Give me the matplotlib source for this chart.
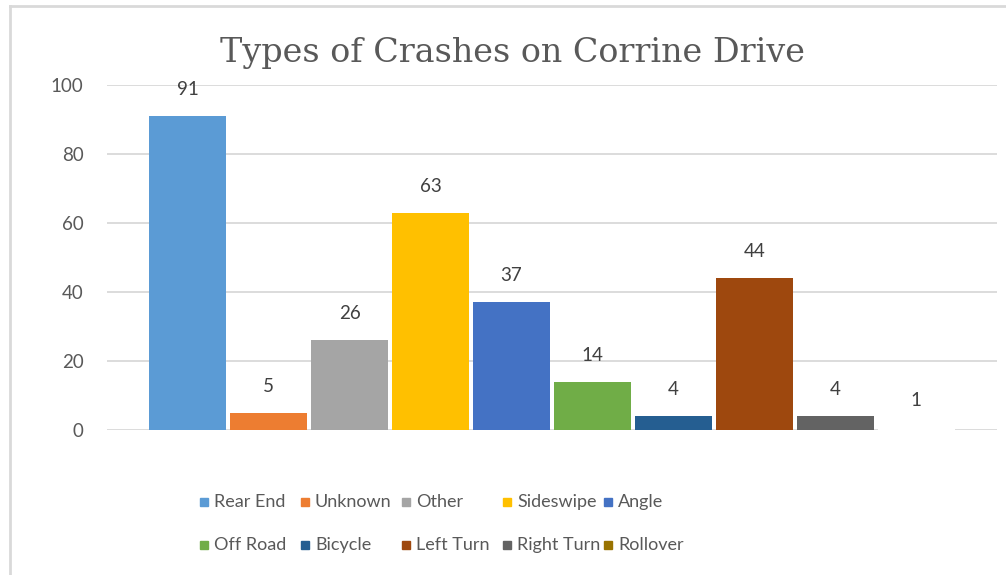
import matplotlib.pyplot as plt
from matplotlib.patches import Rectangle

# crash types and counts
categories = ["Rear End", "Unknown", "Other", "Sideswipe", "Angle",
              "Off Road", "Bicycle", "Left Turn", "Right Turn", "Rollover"]
counts = [91, 5, 26, 63, 37, 14, 4, 44, 4, 1]
colors = ["#5B9BD5", "#ED7D31", "#A5A5A5", "#FFC000", "#4472C4",
          "#70AD47", "#255E91", "#9E480E", "#636363", "#997300"]
yticks = [0, 20, 40, 60, 80, 100]

txt_font = ["Lato", "DejaVu Sans"]
W, H = 1006, 575

fig = plt.figure(figsize=(W / 100, H / 100), dpi=100)
ax = fig.add_axes([107 / W, (H - 430) / H, (997 - 107) / W, 345 / H])

# rollover bar is not visible in the original, so fill it white
bar_colors = colors[:-1] + ["white"]
x = list(range(len(categories)))
ax.bar(x, counts, width=0.95, color=bar_colors, zorder=2)

for xi, v in zip(x, counts):
    ax.annotate(str(v), (xi, v), xytext=(0, 19), textcoords="offset points",
                ha="center", va="center", fontsize=13.5, color="#404040",
                family=txt_font)

ax.set_xlim(-1, 10)
ax.set_ylim(0, 100)
ax.set_yticks(yticks)
ax.set_xticks([])
ax.yaxis.grid(True, color="#D9D9D9", linewidth=1.3, zorder=0)
ax.set_axisbelow(True)
ax.tick_params(axis="y", length=0, pad=17, labelsize=13.5, labelcolor="#595959")
for lab in ax.get_yticklabels():
    lab.set_family(txt_font)
for s in ax.spines.values():
    s.set_visible(False)

fig.text(513 / W, (H - 62) / H, "Types of Crashes on Corrine Drive",
         ha="center", va="baseline", fontsize=24, color="#595959",
         family="DejaVu Serif")

# legend, two rows of five, drawn by hand to match spacing
for i, (name, c) in enumerate(zip(categories, colors)):
    row, col = divmod(i, 5)
    mx = 200 + 101 * col
    my = 502 + 43 * row
    fig.patches.append(Rectangle((mx / W, (H - my - 4) / H), 8 / W, 8 / H,
                                 transform=fig.transFigure, color=c))
    fig.text((mx + 14) / W, (H - my) / H, name, ha="left", va="center",
             fontsize=13, color="#595959", family=txt_font)

# chart frame (top and left edges only visible)
fig.add_artist(plt.Line2D([10 / W, 10 / W], [0, (H - 6) / H],
                          color="#D9D9D9", linewidth=2))
fig.add_artist(plt.Line2D([10 / W, 1], [(H - 6) / H, (H - 6) / H],
                          color="#D9D9D9", linewidth=2))

fig.savefig("out.png", dpi=100)
